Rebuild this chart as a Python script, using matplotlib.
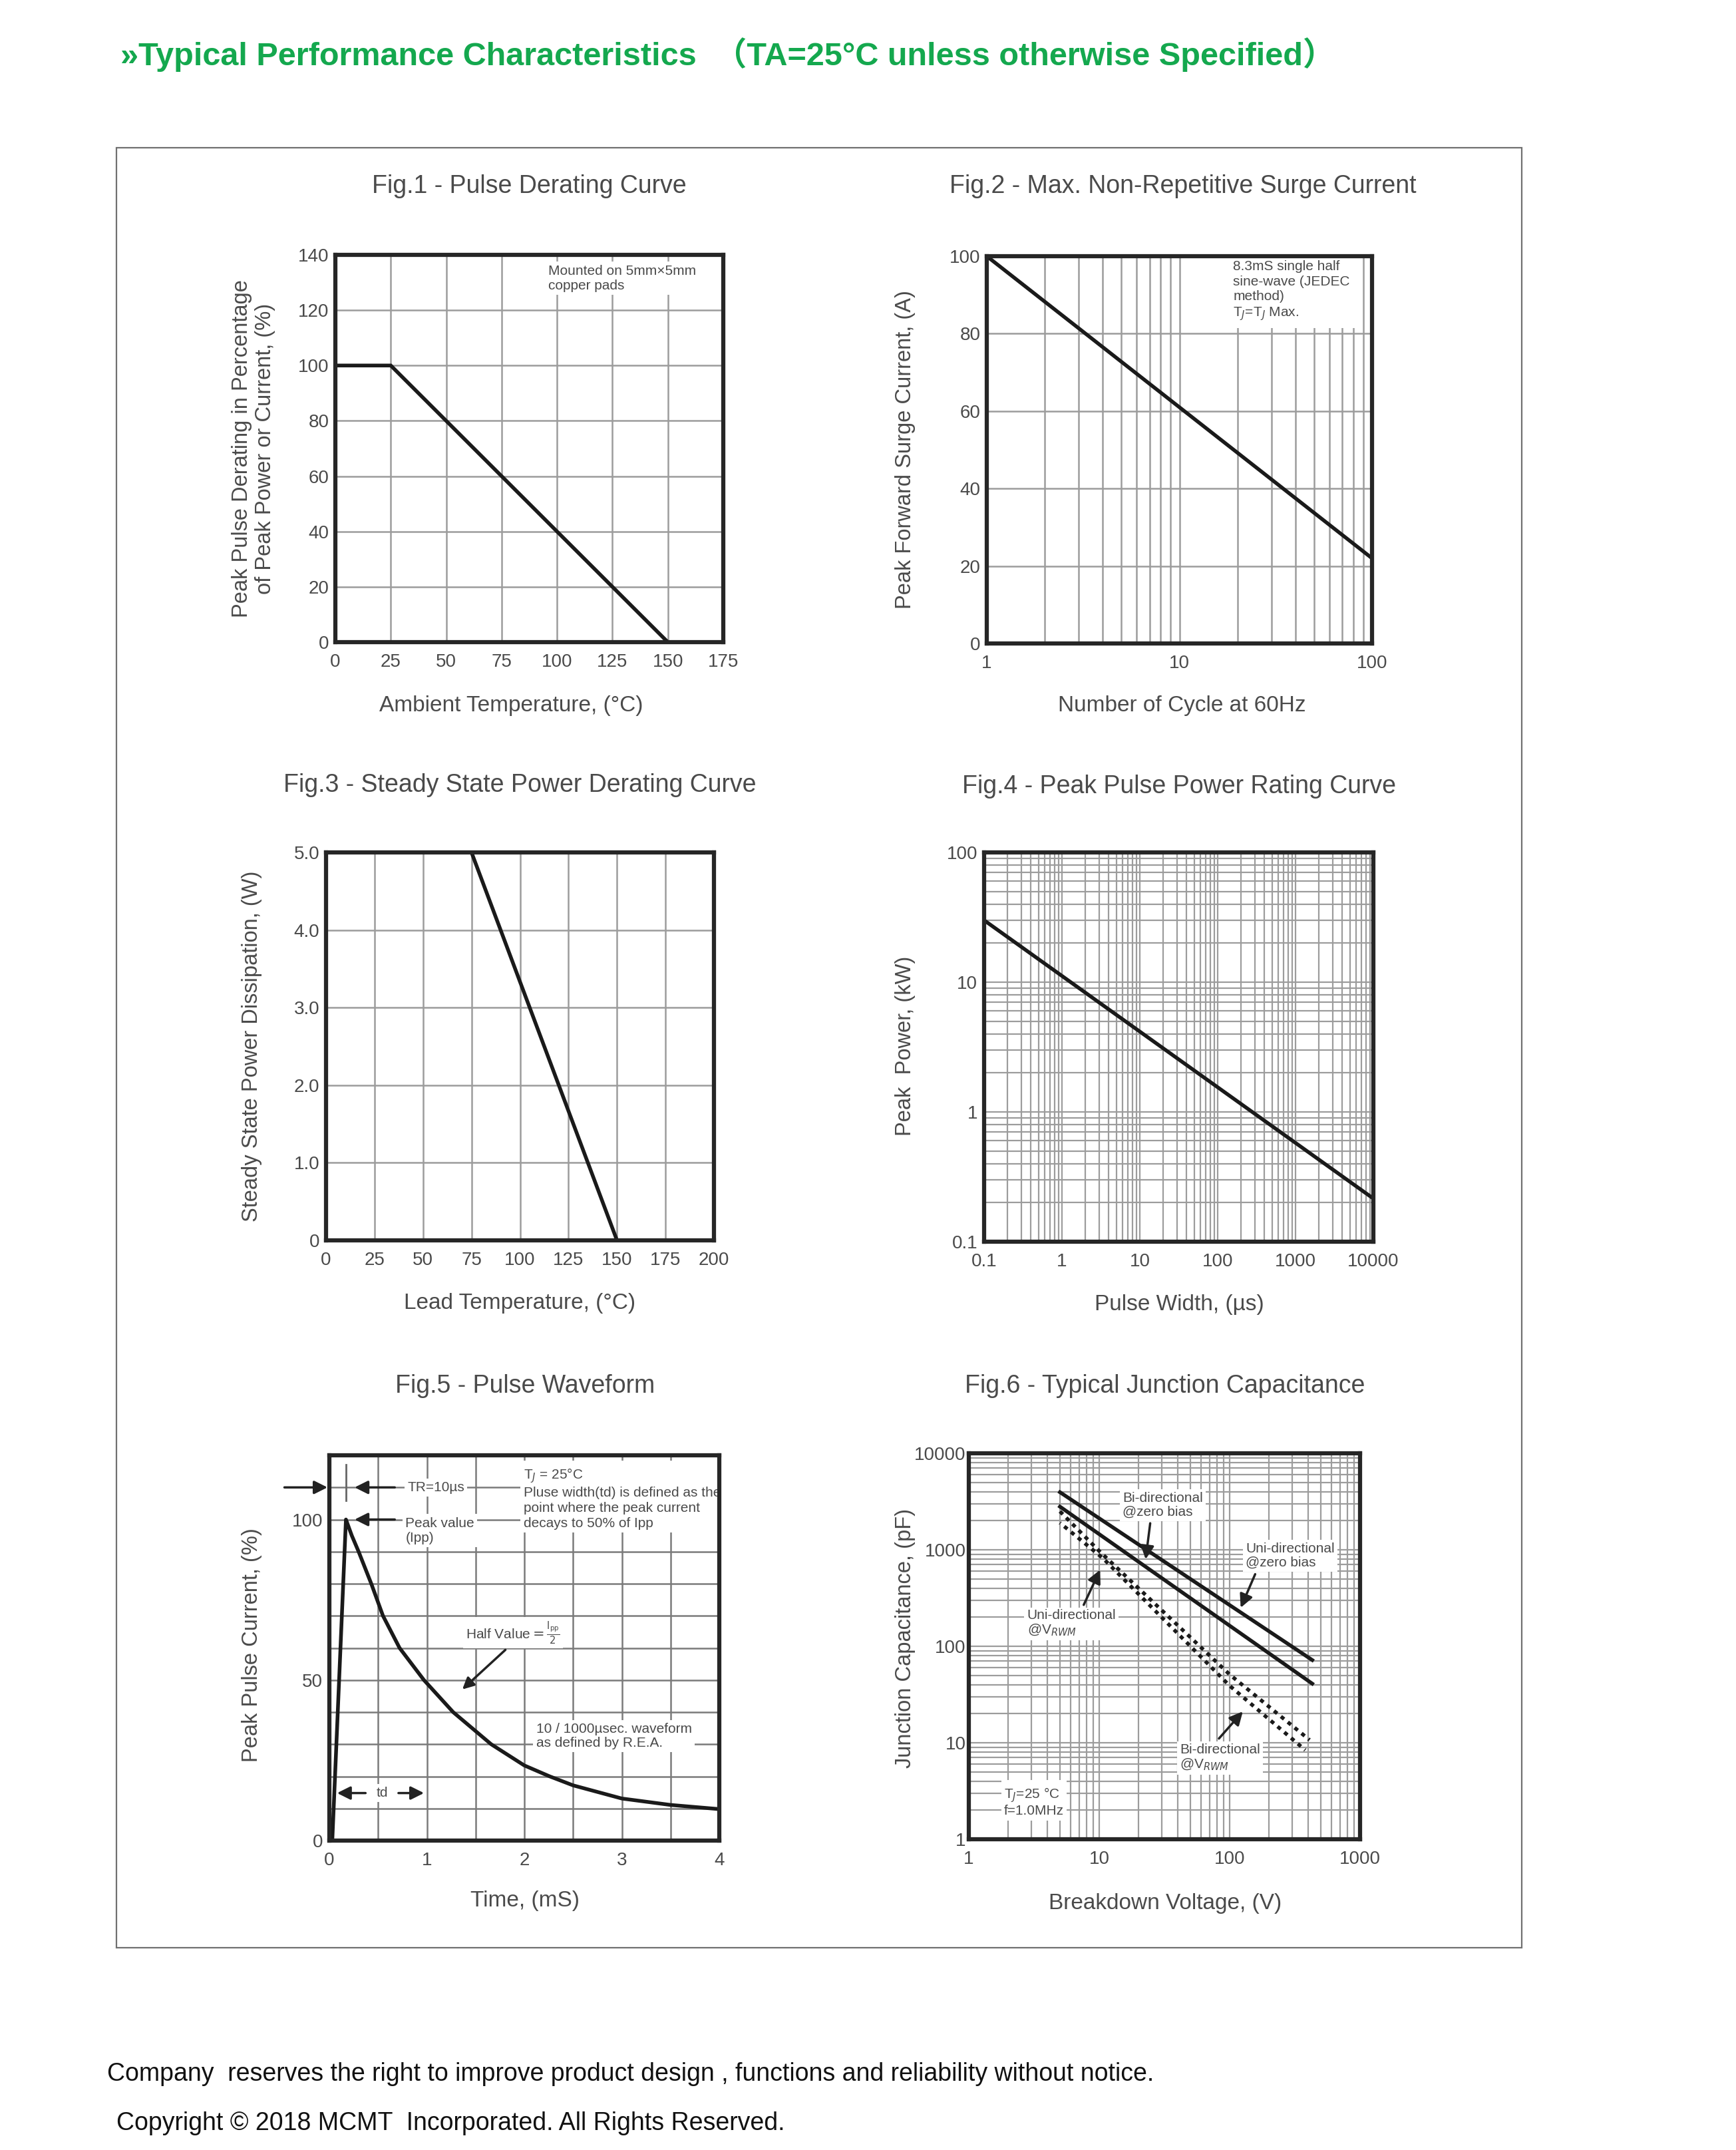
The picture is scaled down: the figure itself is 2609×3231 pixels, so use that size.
import numpy as np
import matplotlib
matplotlib.use('Agg')
import matplotlib.pyplot as plt
from matplotlib.patches import Rectangle
from matplotlib.ticker import FixedLocator, NullFormatter, LogLocator

W, H = 2609, 3231

# ---- values ----
fig1_temp = [0, 25, 150]
fig1_derate = [100, 100, 0]
fig1_xticks = [0, 25, 50, 75, 100, 125, 150, 175]
fig1_yticks = [0, 20, 40, 60, 80, 100, 120, 140]

fig2_cycles = [1, 100]
fig2_current = [100, 22]
fig2_xticks = [1, 10, 100]
fig2_yticks = [0, 20, 40, 60, 80, 100]

fig3_temp = [0, 75, 150]
fig3_power = [5.0, 5.0, 0.0]
fig3_xticks = [0, 25, 50, 75, 100, 125, 150, 175, 200]
fig3_yticks = [0, 1, 2, 3, 4, 5]
fig3_ylabels = ['0', '1.0', '2.0', '3.0', '4.0', '5.0']

fig4_width = [0.1, 10000]
fig4_power = [30, 0.215]
fig4_xticks = [0.1, 1, 10, 100, 1000, 10000]
fig4_xlabels = ['0.1', '1', '10', '100', '1000', '10000']
fig4_yticks = [0.1, 1, 10, 100]
fig4_ylabels = ['0.1', '1', '10', '100']

fig5_time = [0.03, 0.17, 0.23, 0.30, 0.43, 0.55, 0.72, 0.97, 1.27, 1.66, 2.0, 2.26, 2.5, 3.0, 3.5, 4.0]
fig5_current = [0, 100, 95, 90, 80, 70, 60, 50, 40, 30, 23.4, 20, 17.2, 13.1, 11.1, 9.8]
fig5_xticks = [0, 1, 2, 3, 4]
fig5_yticks = [0, 50, 100]

fig6_bi_zero_v = [5, 430]
fig6_bi_zero_c = [3950, 72]
fig6_uni_zero_v = [5, 430]
fig6_uni_zero_c = [2800, 41]
fig6_uni_vrwm_v = [5, 10, 100, 410]
fig6_uni_vrwm_c = [2500, 970, 51, 10.7]
fig6_bi_vrwm_v = [5, 10.7, 100, 380]
fig6_bi_vrwm_c = [1900, 816, 39, 8.4]
fig6_xticks = [1, 10, 100, 1000]
fig6_yticks = [1, 10, 100, 1000, 10000]

TXT = '#4a4a4a'
SPINE = '#262626'
GRID = '#9c9c9c'
LINE = '#1a1a1a'
FONT = ['Liberation Sans', 'DejaVu Sans']
plt.rcParams['font.family'] = FONT

fig = plt.figure(figsize=(W / 100, H / 100), dpi=100)


def add_ax(x0, y0, x1, y1):
    return fig.add_axes([x0 / W, 1 - y1 / H, (x1 - x0) / W, (y1 - y0) / H])


def ftext(x, y, s, **kw):
    kw.setdefault('color', TXT)
    fig.text(x / W, 1 - y / H, s, **kw)


def style(ax):
    for s in ax.spines.values():
        s.set_linewidth(4.5)
        s.set_color(SPINE)
        s.set_zorder(5)
    ax.tick_params(which='both', length=0, labelsize=20, labelcolor=TXT)
    ax.tick_params(axis='x', pad=12)
    ax.tick_params(axis='y', pad=7)
    ax.set_axisbelow(True)


box = dict(fc='white', ec='none', pad=3)
arw = dict(arrowstyle='-|>', color='#222222', lw=2.5, mutation_scale=30)
NOTE = 15

# ---- Fig.1 ----
ax1 = add_ax(504, 383, 1087, 965)
ax1.plot(fig1_temp, fig1_derate, color=LINE, lw=4, solid_joinstyle='miter')
ax1.set_xlim(0, 175)
ax1.set_ylim(0, 140)
ax1.set_xticks(fig1_xticks)
ax1.set_yticks(fig1_yticks)
ax1.grid(True, color=GRID, lw=1.8)
style(ax1)
ax1.text(96, 136.5, 'Mounted on 5mm\u00d75mm\ncopper pads', fontsize=NOTE, color=TXT,
         va='top', ha='left', linespacing=1.2, bbox=box)

# ---- Fig.2 ----
ax2 = add_ax(1483, 385, 2062, 967)
ax2.set_xscale('log')
ax2.plot(fig2_cycles, fig2_current, color=LINE, lw=4)
ax2.set_xlim(1, 100)
ax2.set_ylim(0, 100)
ax2.xaxis.set_major_locator(FixedLocator(fig2_xticks))
ax2.set_xticklabels([str(v) for v in fig2_xticks])
ax2.xaxis.set_minor_locator(LogLocator(base=10, subs=np.arange(2, 10)))
ax2.xaxis.set_minor_formatter(NullFormatter())
ax2.set_yticks(fig2_yticks)
ax2.grid(True, which='major', color=GRID, lw=1.8)
ax2.grid(True, which='minor', axis='x', color=GRID, lw=1.8)
style(ax2)
ax2.text(19, 99, '8.3mS single half\nsine-wave (JEDEC\nmethod)\nT$_J$=T$_J$ Max.', fontsize=NOTE,
         color=TXT, va='top', ha='left', linespacing=1.25, bbox=dict(fc='white', ec='none', pad=6))

# ---- Fig.3 ----
ax3 = add_ax(490, 1281, 1073, 1864)
ax3.plot(fig3_temp, fig3_power, color=LINE, lw=4)
ax3.set_xlim(0, 200)
ax3.set_ylim(0, 5)
ax3.set_xticks(fig3_xticks)
ax3.set_yticks(fig3_yticks)
ax3.set_yticklabels(fig3_ylabels)
ax3.grid(True, color=GRID, lw=1.8)
style(ax3)

# ---- Fig.4 ----
ax4 = add_ax(1479, 1281, 2064, 1866)
ax4.set_xscale('log')
ax4.set_yscale('log')
ax4.plot(fig4_width, fig4_power, color=LINE, lw=4)
ax4.set_xlim(0.1, 10000)
ax4.set_ylim(0.1, 100)
ax4.xaxis.set_major_locator(FixedLocator(fig4_xticks))
ax4.set_xticklabels(fig4_xlabels)
ax4.yaxis.set_major_locator(FixedLocator(fig4_yticks))
ax4.set_yticklabels(fig4_ylabels)
for a in (ax4.xaxis, ax4.yaxis):
    a.set_minor_locator(LogLocator(base=10, subs=np.arange(2, 10), numticks=20))
    a.set_minor_formatter(NullFormatter())
ax4.grid(True, which='both', color=GRID, lw=1.6)
style(ax4)

# ---- Fig.5 ----
ax5 = add_ax(495, 2187, 1081, 2766)
ax5.plot(fig5_time, fig5_current, color=LINE, lw=4)
ax5.set_xlim(0, 4)
ax5.set_ylim(0, 120)
ax5.set_xticks(fig5_xticks)
ax5.set_yticks(fig5_yticks)
ax5.xaxis.set_minor_locator(FixedLocator(np.arange(0.5, 4, 0.5)))
ax5.yaxis.set_minor_locator(FixedLocator(np.arange(10, 120, 10)))
ax5.grid(True, which='both', color='#7a7a7a', lw=1.8)
style(ax5)
ax5.annotate('', xy=(0, 110), xytext=(-0.48, 110), arrowprops=arw, annotation_clip=False)
ax5.plot([0.17, 0.17], [106, 117], color='#666666', lw=2)
ax5.annotate('', xy=(0.24, 110), xytext=(0.69, 110), arrowprops=arw)
ax5.text(0.8, 110, 'TR=10\u00b5s', fontsize=NOTE, color=TXT, va='center', ha='left', bbox=box)
ax5.annotate('', xy=(0.24, 100), xytext=(0.69, 100), arrowprops=arw)
ax5.text(0.78, 100.8, 'Peak value\n(Ipp)', fontsize=NOTE, color=TXT, va='top', ha='left',
         linespacing=1.2, bbox=box)
ax5.text(1.99, 116.5, 'T$_J$ = 25\u00b0C\nPluse width(td) is defined as the\n'
         'point where the peak current\ndecays to 50% of Ipp', fontsize=NOTE, color=TXT,
         va='top', ha='left', linespacing=1.25, bbox=box)
ax5.text(1.4, 64.8, r'Half Value$=\frac{\mathrm{I_{pp}}}{2}$', fontsize=NOTE, color=TXT,
         va='center', ha='left', bbox=box)
ax5.annotate('', xy=(1.35, 46.7), xytext=(1.82, 59.8),
             arrowprops=dict(arrowstyle='-|>', color='#222222', lw=2.5, mutation_scale=26))
ax5.text(2.12, 32.5, '10 / 1000\u00b5sec. waveform\nas defined by R.E.A.', fontsize=NOTE,
         color=TXT, va='center', ha='left', linespacing=1.15, bbox=box)
ax5.annotate('', xy=(0.06, 14.8), xytext=(0.39, 14.8), arrowprops=arw)
ax5.annotate('', xy=(0.99, 14.8), xytext=(0.69, 14.8), arrowprops=arw)
ax5.text(0.54, 14.8, 'td', fontsize=NOTE, color=TXT, va='center', ha='center', bbox=box)

# ---- Fig.6 ----
ax6 = add_ax(1456, 2184, 2044, 2764)
ax6.set_xscale('log')
ax6.set_yscale('log')
ax6.plot(fig6_bi_zero_v, fig6_bi_zero_c, color=LINE, lw=4)
ax6.plot(fig6_uni_zero_v, fig6_uni_zero_c, color=LINE, lw=4)
ax6.plot(fig6_uni_vrwm_v, fig6_uni_vrwm_c, color=LINE, lw=4, ls=(0, (1.1, 1.3)))
ax6.plot(fig6_bi_vrwm_v, fig6_bi_vrwm_c, color=LINE, lw=4, ls=(0.9, (1.1, 1.3)))
ax6.set_xlim(1, 1000)
ax6.set_ylim(1, 10000)
ax6.xaxis.set_major_locator(FixedLocator(fig6_xticks))
ax6.set_xticklabels([str(v) for v in fig6_xticks])
ax6.yaxis.set_major_locator(FixedLocator(fig6_yticks))
ax6.set_yticklabels([str(v) for v in fig6_yticks])
for a in (ax6.xaxis, ax6.yaxis):
    a.set_minor_locator(LogLocator(base=10, subs=np.arange(2, 10), numticks=20))
    a.set_minor_formatter(NullFormatter())
ax6.grid(True, which='both', color=GRID, lw=1.6)
style(ax6)
ax6.tick_params(axis='y', pad=3)
small = dict(fontsize=NOTE, color=TXT, ha='left', va='center', linespacing=1.1, bbox=box)
ax6.text(15.1, 2900, 'Bi-directional\n@zero bias', **small)
ax6.annotate('', xy=(22.6, 763), xytext=(24.7, 1968), arrowprops=arw)
ax6.text(133, 871, 'Uni-directional\n@zero bias', **small)
ax6.annotate('', xy=(120, 241), xytext=(159, 582), arrowprops=arw)
ax6.text(2.8, 172, 'Uni-directional\n@V$_{RWM}$', **small)
ax6.annotate('', xy=(10.3, 645), xytext=(7.5, 258), arrowprops=arw)
ax6.text(41.5, 7.0, 'Bi-directional\n@V$_{RWM}$', **small)
ax6.annotate('', xy=(129, 21.8), xytext=(81, 10.7), arrowprops=arw)
ax6.text(1.86, 2.44, 'T$_J$=25 \u00b0C\nf=1.0MHz', **small)

# ---- figure titles and axis labels ----
tk = dict(fontsize=27, ha='center', va='center')
ftext(795, 280, 'Fig.1 - Pulse Derating Curve', **tk)
ftext(1778, 280, 'Fig.2 - Max. Non-Repetitive Surge Current', **tk)
ftext(781, 1180, 'Fig.3 - Steady State Power Derating Curve', **tk)
ftext(1772, 1182, 'Fig.4 - Peak Pulse Power Rating Curve', **tk)
ftext(789, 2083, 'Fig.5 - Pulse Waveform', **tk)
ftext(1751, 2083, 'Fig.6 - Typical Junction Capacitance', **tk)

xl = dict(fontsize=24, ha='center', va='center')
ftext(768, 1061, 'Ambient Temperature, (\u00b0C)', **xl)
ftext(1776, 1061, 'Number of Cycle at 60Hz', **xl)
ftext(781, 1959, 'Lead Temperature, (\u00b0C)', **xl)
ftext(1772, 1961, 'Pulse Width, (\u00b5s)', **xl)
ftext(789, 2857, 'Time, (mS)', **xl)
ftext(1751, 2861, 'Breakdown Voltage, (V)', **xl)

yl = dict(fontsize=23.5, ha='center', va='center', rotation=90)
ftext(381, 674, 'Peak Pulse Derating in Percentage\nof Peak Power or Current, (%)',
      linespacing=1.15, **yl)
ftext(1360, 676, 'Peak Forward Surge Current, (A)', **yl)
ftext(379, 1572, 'Steady State Power Dissipation, (W)', **yl)
ftext(1360, 1572, 'Peak  Power, (kW)', **yl)
ftext(379, 2472, 'Peak Pulse Current, (%)', **yl)
ftext(1360, 2462, 'Junction Capacitance, (pF)', **yl)

# ---- page frame, heading and footer ----
fig.add_artist(Rectangle((175 / W, 1 - 2927 / H), (2287 - 175) / W, (2927 - 222) / H,
                         transform=fig.transFigure, fill=False, ec='#707070', lw=1.6))

ftext(181, 82, '\u00bbTypical Performance Characteristics  \uff08TA=25\u00b0C unless otherwise Specified\uff09',
      fontsize=35, fontweight='bold', color='#14a84e', ha='left', va='center',
      family=['Liberation Sans Narrow', 'Liberation Sans', 'Noto Sans CJK SC'])

ftext(161, 3117, 'Company  reserves the right to improve product design , functions and reliability without notice.',
      fontsize=27, color='#111111', ha='left', va='center')
ftext(175, 3191, 'Copyright \u00a9 2018 MCMT  Incorporated. All Rights Reserved.',
      fontsize=27, color='#111111', ha='left', va='center')

fig.savefig('out.png', dpi=100, facecolor='white')
